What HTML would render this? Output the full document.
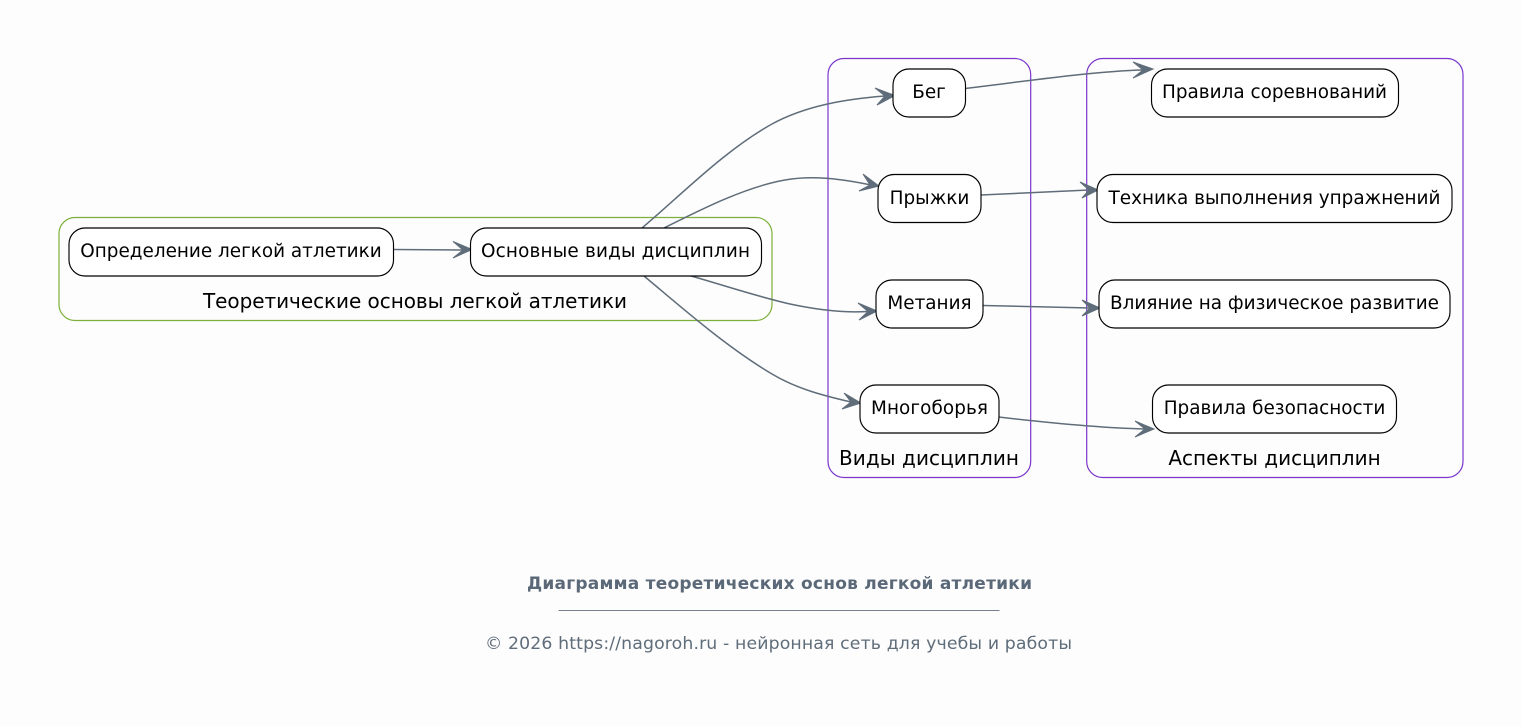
<!DOCTYPE html>
<html><head><meta charset="utf-8"><style>
html,body{margin:0;padding:0;background:#fdfdfd;width:1521px;height:727px;overflow:hidden}
svg{display:block}
text{font-family:"DejaVu Sans",sans-serif;fill:#000}
.n{fill:#fff;stroke:#000;stroke-width:1.15}
.e{fill:none;stroke:#5f6d7a;stroke-width:1.5}
.a{fill:#5f6d7a;stroke:#5f6d7a;stroke-width:1}
.l{font-size:18.4px;text-anchor:middle}
.c{font-size:20px;text-anchor:middle}
</style></head><body>
<svg width="1521" height="727" viewBox="0 0 1521 727" xmlns="http://www.w3.org/2000/svg">
<rect width="1521" height="727" fill="#fdfdfd"/>
<rect x="59" y="217.500" width="713" height="103" rx="16" fill="none" stroke="#7cb03a" stroke-width="1.2"/>
<rect x="828" y="58.500" width="202.700" height="419" rx="16" fill="none" stroke="#7a36cc" stroke-width="1.2"/>
<rect x="1086.700" y="58.500" width="376.300" height="419" rx="16" fill="none" stroke="#7a36cc" stroke-width="1.2"/>

<path class="e" d="M393.500 249.500 L463 250"/>
<path class="e" d="M642 228 C680 196 725 150 772 124 C805 106 845 99 885 96"/>
<path class="e" d="M664 228 C700 210 745 187 785 180 C813 175 842 179 871 185"/>
<path class="e" d="M691 276 C720 284 755 296 790 304 C818 310 845 313 868 311.500"/>
<path class="e" d="M644 276 C680 306 725 346 772 374 C797 389 825 396 851 402"/>
<path class="e" d="M965 88.500 C1020 82 1095 71 1143 70"/>
<path class="e" d="M981 195 L1089 190"/>
<path class="e" d="M983 305.500 L1090 308"/>
<path class="e" d="M998.500 417 C1050 423 1105 428 1145 429"/>

<path class="a" d="M472 249.500 L453 241.500 L463 250 L453 258 Z"/>
<path class="a" d="M895 95.500 L875 88 L885 96 L877 105 Z"/>
<path class="a" d="M879 186 L863 174 L870 185 L859 191 Z"/>
<path class="a" d="M877 311 L858 303 L868 311.500 L859 320 Z"/>
<path class="a" d="M861 403 L844 393 L851 402 L842 409 Z"/>
<path class="a" d="M1153 69 L1133 62 L1143 70 L1133 78 Z"/>
<path class="a" d="M1098 190 L1080 182 L1089 190 L1082 198 Z"/>
<path class="a" d="M1100 308 L1082 300 L1090 308 L1082 316 Z"/>
<path class="a" d="M1154 429 L1135 421 L1145 429 L1135 437 Z"/>

<rect class="n" x="69" y="228" width="324.500" height="48" rx="16"/>
<text class="l" x="231" y="257">Определение легкой атлетики</text>
<rect class="n" x="470.500" y="228" width="291" height="48" rx="16"/>
<text class="l" x="615.500" y="257" textLength="269" lengthAdjust="spacing">Основные виды дисциплин</text>
<text class="c" x="415" y="308" textLength="424" lengthAdjust="spacing">Теоретические основы легкой атлетики</text>

<rect class="n" x="893" y="69" width="72.500" height="48" rx="16"/>
<text class="l" x="929" y="98">Бег</text>
<rect class="n" x="878" y="174.500" width="103" height="48" rx="16"/>
<text class="l" x="929.500" y="204">Прыжки</text>
<rect class="n" x="876" y="280" width="107" height="48" rx="16"/>
<text class="l" x="929.500" y="309">Метания</text>
<rect class="n" x="860" y="385" width="139" height="48" rx="16"/>
<text class="l" x="929.500" y="414" textLength="117" lengthAdjust="spacing">Многоборья</text>
<text class="c" x="929" y="465" textLength="180" lengthAdjust="spacing">Виды дисциплин</text>

<rect class="n" x="1151.500" y="69" width="247" height="48" rx="16"/>
<text class="l" x="1274.500" y="98" textLength="225" lengthAdjust="spacing">Правила соревнований</text>
<rect class="n" x="1097" y="174.500" width="355" height="48" rx="16"/>
<text class="l" x="1274.500" y="204">Техника выполнения упражнений</text>
<rect class="n" x="1099" y="280" width="351" height="48" rx="16"/>
<text class="l" x="1274.500" y="309" textLength="329" lengthAdjust="spacing">Влияние на физическое развитие</text>
<rect class="n" x="1152.500" y="385" width="244" height="48" rx="16"/>
<text class="l" x="1274.500" y="414">Правила безопасности</text>
<text class="c" x="1274.500" y="465">Аспекты дисциплин</text>

<text x="779.500" y="589" text-anchor="middle" style="font-size:17px;font-weight:bold;fill:#5a6878" textLength="505" lengthAdjust="spacing">Диаграмма теоретических основ легкой атлетики</text>
<rect x="558.500" y="610" width="441" height="1" fill="#77818b"/>
<text x="778.500" y="649" text-anchor="middle" style="font-size:17.3px;fill:#5f6d7a" textLength="587" lengthAdjust="spacing">© 2026 https://nagoroh.ru - нейронная сеть для учебы и работы</text>
</svg>
</body></html>
